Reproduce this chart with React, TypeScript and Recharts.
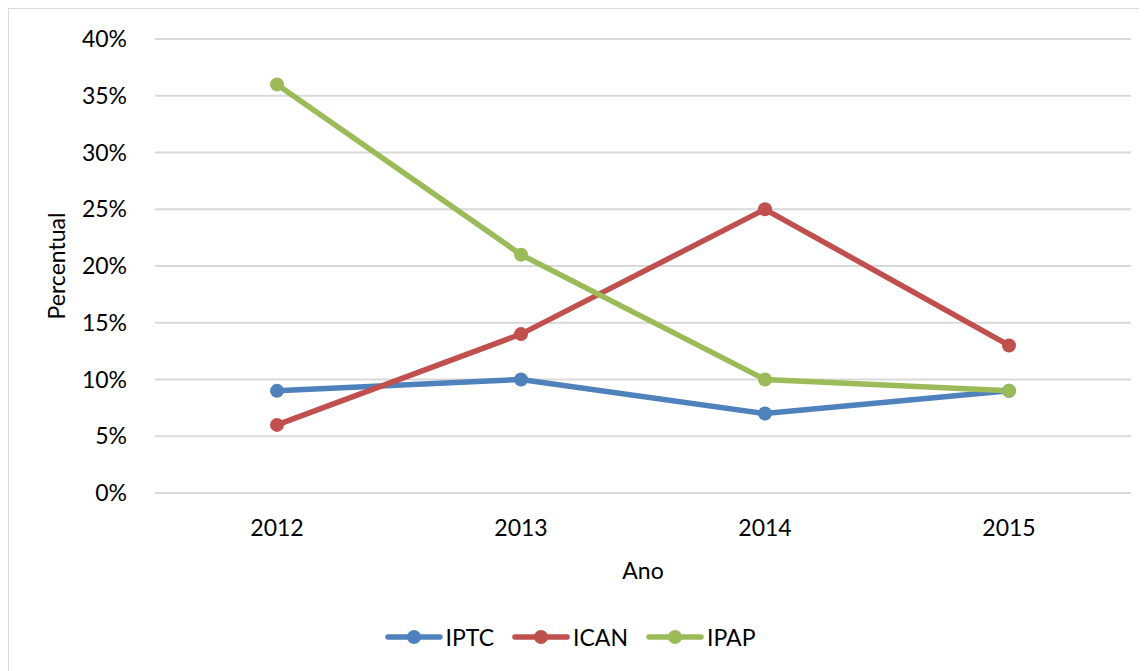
import React from 'react';
import { LineChart, Line, XAxis, YAxis, CartesianGrid, Legend } from 'recharts';

const years = ['2012', '2013', '2014', '2015'];
const iptc = [9, 10, 7, 9];
const ican = [6, 14, 25, 13];
const ipap = [36, 21, 10, 9];
const yTicks = [0, 5, 10, 15, 20, 25, 30, 35, 40];
const seriesOrder = ['IPTC', 'ICAN', 'IPAP'];

const FONT = 'Lato, "Open Sans", sans-serif';
const GRID = '#d9d9d9';

const data = years.map((year, i) => ({ year, IPTC: iptc[i], ICAN: ican[i], IPAP: ipap[i] }));

function LegendContent({ payload }: any) {
  const items = [...(payload || [])].sort((a: any, b: any) => seriesOrder.indexOf(a.value) - seriesOrder.indexOf(b.value));
  return (
    <div style={{ height: 68, display: 'flex', alignItems: 'center', justifyContent: 'center', fontFamily: FONT, fontSize: 23, color: '#000' }}>
      {items.map((p: any, i: number) => (
        <div key={p.value} style={{ display: 'flex', alignItems: 'center', marginLeft: i ? 18 : 0 }}>
          <svg width={58} height={18} style={{ marginRight: 3 }}>
            <line x1={3} y1={9} x2={55} y2={9} stroke={p.color} strokeWidth={5.5} strokeLinecap="round" />
            <circle cx={29} cy={9} r={7} fill={p.color} />
          </svg>
          <span>{p.value}</span>
        </div>
      ))}
    </div>
  );
}

export default function App() {
  const tick = { fontSize: 23, fill: '#000', fontFamily: FONT };
  return (
    <div style={{ width: 1139, height: 663, borderTop: `1px solid ${GRID}`, borderLeft: `1px solid ${GRID}`, background: '#fff' }}>
      <LineChart width={1138} height={662} data={data} margin={{ top: 30, right: 16, left: 0, bottom: 0 }}>
        <CartesianGrid vertical={false} stroke={GRID} strokeWidth={2} />
        <XAxis
          dataKey="year"
          height={110}
          padding={{ left: 122, right: 122 }}
          tickLine={false}
          axisLine={{ stroke: GRID, strokeWidth: 2 }}
          tickSize={0}
          tickMargin={27}
          tick={tick}
          label={(props: any) => {
            const vb = props.viewBox;
            return (
              <text x={vb.x + vb.width / 2} y={561} textAnchor="middle" dominantBaseline="central" fontSize={23} fontFamily={FONT} fill="#000">
                Ano
              </text>
            );
          }}
        />
        <YAxis
          width={146}
          domain={[0, 40]}
          ticks={yTicks}
          interval={0}
          tickFormatter={(v: number) => `${v}%`}
          tickLine={false}
          axisLine={false}
          tickSize={0}
          tickMargin={28}
          tick={tick}
          label={(props: any) => {
            const vb = props.viewBox;
            const cy = vb.y + vb.height / 2;
            return (
              <text x={47} y={cy} transform={`rotate(-90 47 ${cy})`} textAnchor="middle" dominantBaseline="central" fontSize={23} fontFamily={FONT} fill="#000">
                Percentual
              </text>
            );
          }}
        />
        <Legend verticalAlign="bottom" content={<LegendContent />} />
        <Line dataKey="IPTC" stroke="#4f81bd" strokeWidth={5.5} dot={{ r: 7, fill: '#4f81bd', stroke: '#4f81bd', strokeWidth: 0 }} isAnimationActive={false} />
        <Line dataKey="ICAN" stroke="#c0504d" strokeWidth={5.5} dot={{ r: 7, fill: '#c0504d', stroke: '#c0504d', strokeWidth: 0 }} isAnimationActive={false} />
        <Line dataKey="IPAP" stroke="#9bbb59" strokeWidth={5.5} dot={{ r: 7, fill: '#9bbb59', stroke: '#9bbb59', strokeWidth: 0 }} isAnimationActive={false} />
      </LineChart>
    </div>
  );
}
